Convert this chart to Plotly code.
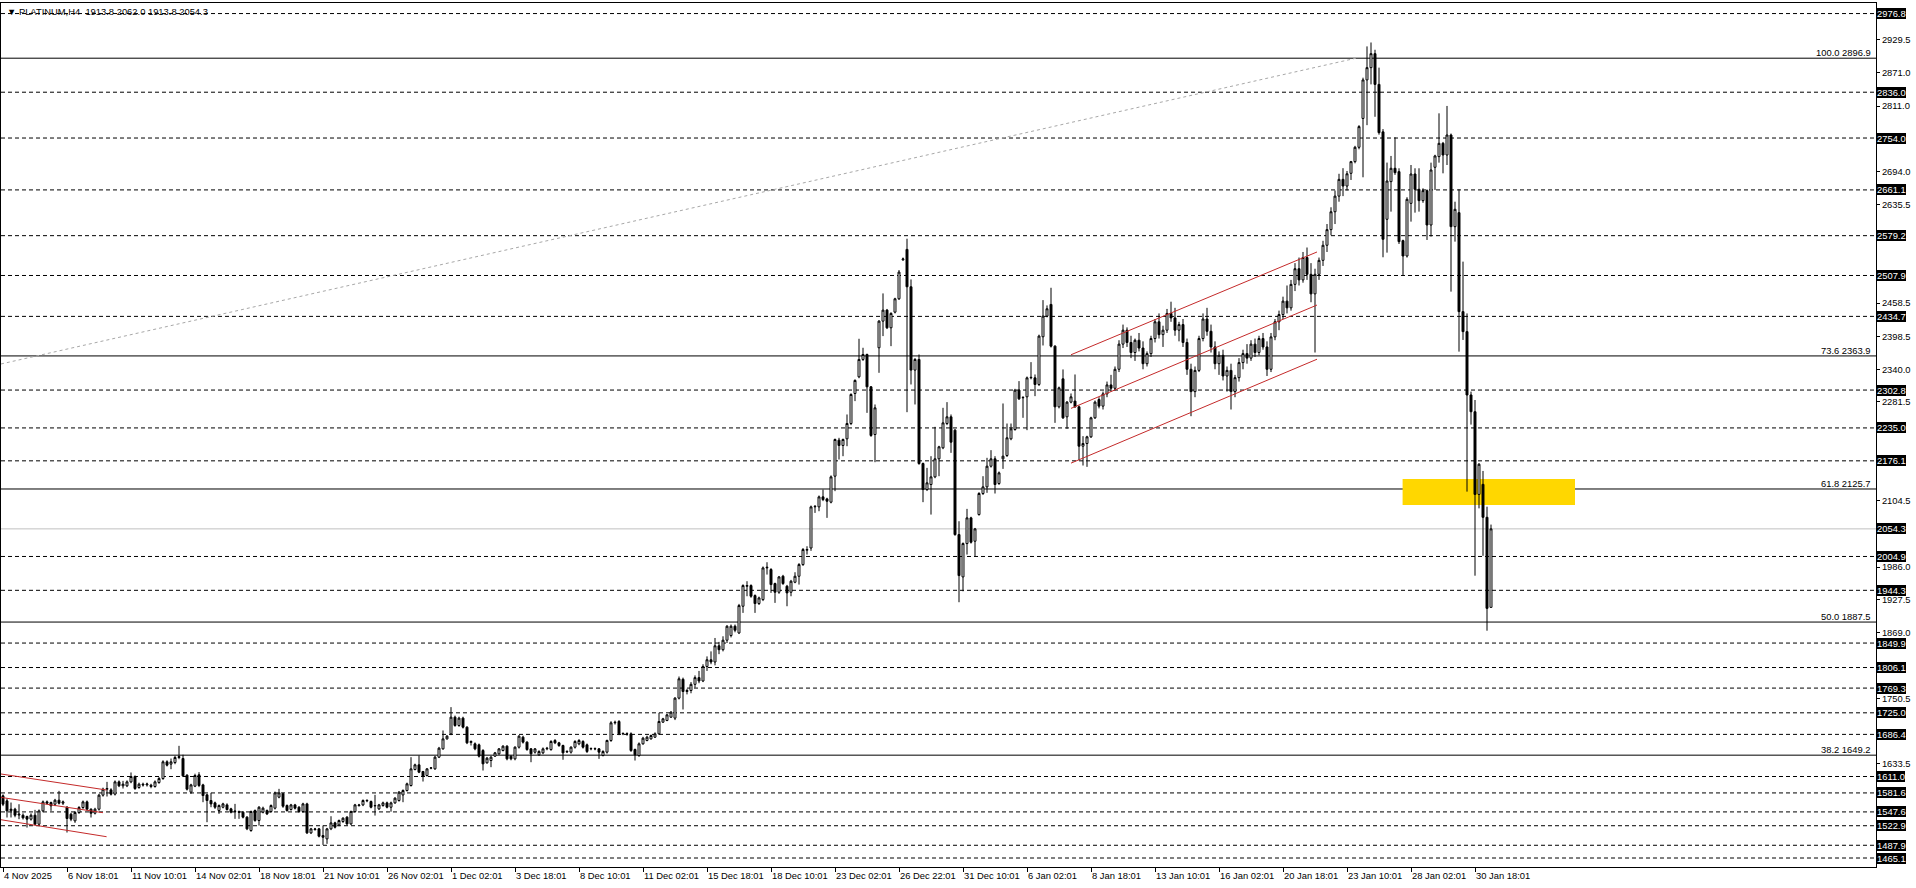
import plotly.graph_objects as go

# ---------------- data (PLATINUM, H4) ----------------
opens = [
1576.4,1567.4,1550.0,1552.5,1542.0,1541.7,1539.4,1534.6,1541.7,1525.6,
1549.5,1565.6,1564.4,1561.4,1568.6,1563.2,1556.0,1543.5,1531.6,1546.5,
1555.5,1565.6,1552.5,1545.3,1552.5,1577.6,1588.3,1587.1,1579.4,1601.4,
1594.3,1594.3,1601.4,1611.0,1591.3,1597.3,1596.0,1595.5,1593.1,1600.2,
1607.4,1637.3,1633.1,1636.0,1645.0,1643.2,1613.4,1583.0,1593.7,1614.0,
1596.0,1578.2,1568.0,1563.8,1550.1,1556.0,1560.2,1553.1,1548.3,1548.0,
1547.1,1538.2,1514.3,1550.1,1532.2,1547.1,1550.1,1548.3,1554.3,1574.0,
1580.0,1559.0,1551.9,1560.2,1556.0,1548.3,1562.0,1510.1,1516.1,1517.3,
1505.3,1499.3,1517.3,1528.0,1524.4,1530.4,1538.2,1526.2,1548.3,1559.0,
1560.2,1567.4,1566.2,1558.4,1553.1,1559.0,1563.8,1556.0,1563.8,1568.0,
1578.0,1585.9,1594.9,1623.5,1631.9,1619.9,1612.8,1625.9,1624.7,1645.6,
1660.5,1678.4,1687.4,1717.2,1702.3,1715.5,1699.3,1672.0,1669.5,1667.7,
1657.5,1635.5,1639.6,1647.4,1651.6,1657.5,1665.3,1647.4,1642.6,1663.5,
1681.4,1672.5,1660.5,1654.6,1649.8,1653.4,1660.5,1659.3,1675.5,1671.3,
1666.5,1655.0,1654.6,1663.5,1669.5,1673.7,1667.7,1660.5,1661.0,1660.5,
1648.6,1654.6,1675.5,1707.1,1709.5,1687.4,1687.4,1687.4,1659.3,1648.6,
1669.5,1675.5,1678.4,1681.4,1687.4,1708.3,1711.3,1717.2,1715.5,1751.3,
1785.0,1763.2,1765.0,1776.0,1788.0,1782.0,1808.0,1820.0,1816.0,1845.0,
1838.0,1855.0,1863.3,1880.0,1868.0,1915.8,1951.6,1952.8,1934.9,1920.6,
1927.7,1984.4,1981.5,1956.4,1940.9,1969.5,1951.6,1940.9,1958.8,1969.5,
1990.4,2016.1,2020.0,2093.7,2093.7,2111.6,2108.0,2102.1,2148.6,2213.1,
2203.6,2215.5,2242.9,2296.7,2326.5,2357.6,2366.5,2308.6,2223.2,2378.5,
2426.2,2445.9,2414.3,2442.3,2466.2,2536.0,2554.6,2487.7,2338.5,2357.6,
2171.3,2124.7,2133.7,2147.4,2179.7,2199.4,2242.9,2254.9,2231.0,2044.1,
1968.3,2028.0,2074.0,2032.2,2079.9,2117.6,2129.5,2166.5,2179.7,2135.5,
2179.7,2185.6,2215.5,2232.2,2302.6,2288.9,2290.7,2324.7,2324.7,2312.8,
2398.2,2435.2,2456.1,2381.4,2272.8,2322.9,2254.9,2281.2,2283.0,2272.8,
2202.3,2207.1,2219.1,2253.1,2285.9,2274.0,2296.0,2312.0,2306.0,2340.0,
2385.0,2410.0,2388.0,2370.0,2392.0,2378.0,2350.0,2368.0,2395.0,2425.0,
2402.0,2410.0,2440.0,2432.0,2410.0,2420.0,2388.0,2340.0,2300.0,2338.0,
2395.0,2430.0,2408.0,2380.0,2350.0,2365.0,2328.0,2338.0,2300.0,2325.0,
2352.0,2368.0,2360.0,2385.0,2370.0,2395.0,2380.0,2340.0,2398.0,2425.0,
2438.0,2462.0,2450.0,2492.0,2520.0,2500.0,2540.0,2510.0,2475.0,2510.0,
2535.0,2562.0,2590.0,2622.0,2650.0,2680.0,2668.0,2690.8,2711.7,2737.4,
2789.0,2858.0,2880.0,2905.0,2850.0,2765.0,2608.5,2675.9,2699.8,2693.8,
2570.3,2542.8,2637.0,2689.6,2662.2,2641.9,2659.8,2598.3,2701.6,2720.7,
2744.5,2723.6,2759.4,2595.3,2620.4,2443.2,2407.4,2294.0,2264.0,2116.0,
2134.0,2075.0,1913.8]

highs = [
1579.0,1571.6,1564.4,1555.0,1561.4,1545.0,1541.0,1545.0,1551.3,1552.0,
1568.0,1568.0,1566.0,1571.0,1585.3,1568.0,1558.0,1546.0,1549.0,1558.0,
1568.0,1568.0,1554.0,1555.0,1580.0,1591.0,1601.4,1590.0,1604.0,1604.0,
1603.2,1604.0,1618.2,1613.0,1600.0,1600.0,1600.0,1598.0,1604.0,1610.0,
1640.0,1640.0,1643.2,1648.0,1665.9,1650.0,1615.0,1598.0,1616.0,1618.8,
1598.0,1580.0,1581.7,1566.0,1561.0,1564.0,1563.0,1555.0,1562.0,1550.0,
1549.0,1540.0,1550.0,1552.0,1558.0,1557.0,1552.0,1561.0,1584.0,1588.9,
1582.0,1561.0,1562.0,1562.0,1558.0,1564.0,1564.0,1519.0,1519.0,1519.0,
1523.2,1519.0,1539.9,1530.0,1534.0,1538.0,1540.0,1550.0,1562.0,1562.0,
1570.0,1570.0,1568.0,1578.2,1562.0,1566.0,1566.0,1566.0,1574.0,1585.0,
1588.0,1600.0,1645.6,1634.0,1648.6,1621.0,1626.0,1628.0,1648.0,1664.0,
1693.4,1685.0,1735.2,1720.0,1718.0,1718.0,1701.0,1675.5,1672.0,1670.0,
1660.0,1646.0,1648.0,1655.0,1662.0,1667.0,1667.0,1649.0,1665.0,1685.0,
1684.0,1674.0,1662.0,1662.0,1658.0,1663.0,1664.0,1676.0,1678.0,1673.0,
1668.0,1658.0,1665.0,1676.0,1678.0,1676.0,1670.0,1663.0,1663.0,1662.0,
1658.0,1677.0,1710.0,1711.0,1712.0,1690.0,1690.0,1690.0,1661.0,1672.0,
1682.0,1684.0,1686.0,1690.0,1725.0,1716.0,1723.0,1728.0,1753.0,1790.0,
1788.0,1768.0,1780.0,1792.0,1800.0,1812.0,1826.0,1835.0,1859.0,1852.0,
1862.0,1882.0,1883.0,1883.0,1920.0,1955.0,1960.6,1955.0,1937.0,1933.0,
1987.0,1994.6,1984.0,1958.0,1970.0,1972.0,1954.0,1963.0,1976.7,1993.0,
2020.0,2023.2,2096.0,2097.0,2114.0,2124.7,2110.0,2150.0,2216.0,2217.3,
2216.0,2259.1,2297.0,2322.0,2394.6,2378.5,2368.0,2310.0,2277.0,2428.0,
2475.8,2448.0,2442.0,2468.0,2517.6,2540.0,2573.7,2500.8,2360.0,2366.5,
2173.0,2163.5,2184.4,2237.0,2203.0,2271.0,2281.2,2259.1,2233.0,2068.0,
2030.0,2090.1,2076.0,2056.0,2120.0,2148.6,2181.5,2195.2,2184.4,2157.0,
2278.8,2242.9,2242.9,2305.0,2318.8,2292.0,2327.0,2352.8,2330.7,2402.0,
2463.8,2454.3,2485.9,2383.0,2309.0,2339.7,2283.0,2296.7,2330.7,2275.0,
2220.3,2221.0,2255.0,2284.0,2290.0,2300.0,2318.0,2330.0,2345.0,2392.0,
2420.0,2415.0,2400.0,2395.0,2405.0,2390.0,2372.0,2400.0,2430.0,2440.0,
2418.0,2448.0,2461.0,2450.0,2425.0,2430.0,2395.0,2350.0,2345.0,2400.0,
2440.0,2450.0,2420.0,2390.0,2372.0,2375.0,2345.0,2350.0,2330.0,2360.0,
2375.0,2385.0,2392.0,2395.0,2400.0,2405.0,2390.0,2405.0,2430.0,2445.0,
2470.0,2490.0,2500.0,2530.0,2540.0,2550.0,2558.0,2530.0,2520.0,2540.0,
2570.0,2600.0,2630.0,2660.0,2690.0,2700.0,2695.0,2713.0,2740.0,2777.0,
2862.0,2918.0,2925.0,2912.0,2880.0,2770.0,2710.0,2721.9,2755.3,2699.8,
2572.0,2648.0,2705.7,2699.8,2699.8,2664.0,2662.0,2709.9,2724.0,2798.2,
2747.0,2811.4,2762.0,2640.0,2662.2,2532.7,2440.0,2300.0,2285.0,2172.0,
2158.0,2094.0,2062.0]

lows = [
1558.0,1537.6,1537.6,1538.0,1534.6,1534.0,1519.6,1532.0,1523.8,1523.0,
1547.0,1561.0,1549.5,1558.0,1561.0,1560.0,1510.7,1531.0,1528.0,1544.0,
1553.0,1550.0,1537.6,1543.0,1550.0,1575.0,1575.2,1577.0,1577.0,1592.0,
1589.5,1592.0,1599.0,1587.0,1589.0,1593.0,1593.0,1590.0,1591.0,1598.0,
1605.0,1629.0,1624.1,1633.0,1642.0,1610.0,1586.0,1580.0,1592.0,1592.0,
1565.0,1529.2,1556.0,1553.0,1544.1,1554.0,1550.0,1545.0,1535.2,1535.2,
1536.0,1515.0,1512.0,1530.0,1523.2,1545.0,1542.0,1546.0,1552.0,1572.0,
1555.0,1548.0,1550.0,1552.0,1546.0,1546.0,1508.0,1508.0,1514.0,1502.0,
1488.6,1490.4,1515.0,1518.0,1522.0,1528.0,1524.0,1524.0,1546.0,1557.0,
1558.0,1565.0,1554.0,1541.1,1551.0,1557.0,1554.0,1548.0,1562.0,1566.0,
1565.0,1584.0,1593.0,1622.0,1617.0,1602.0,1611.0,1624.0,1623.0,1644.0,
1659.0,1677.0,1685.0,1700.0,1700.0,1697.0,1669.0,1666.5,1658.0,1645.0,
1621.7,1634.0,1627.7,1646.0,1650.0,1656.0,1640.0,1640.0,1640.0,1661.0,
1670.0,1657.0,1636.6,1652.0,1648.0,1651.0,1658.0,1657.0,1669.0,1664.0,
1641.0,1653.0,1652.0,1661.0,1667.0,1661.0,1653.0,1658.0,1658.0,1642.6,
1647.0,1652.0,1673.0,1704.0,1685.0,1685.0,1684.0,1655.0,1639.6,1646.0,
1668.0,1674.0,1677.0,1680.0,1686.0,1707.0,1710.0,1716.0,1712.0,1749.0,
1731.0,1758.0,1760.0,1770.0,1778.0,1780.0,1800.0,1812.0,1810.0,1830.0,
1835.0,1850.0,1860.0,1869.2,1866.0,1903.9,1933.7,1931.0,1903.9,1918.0,
1925.0,1972.5,1939.7,1921.8,1938.0,1954.0,1915.8,1933.7,1957.0,1954.6,
1988.0,2008.3,2015.0,2082.9,2085.9,2104.0,2074.0,2100.0,2121.8,2178.5,
2184.4,2202.3,2240.0,2283.0,2324.0,2355.0,2262.0,2219.0,2173.7,2333.7,
2399.4,2412.0,2381.4,2440.0,2464.0,2534.0,2263.2,2312.8,2277.0,2169.0,
2102.1,2122.0,2079.9,2145.0,2148.6,2197.0,2240.0,2190.4,2042.0,1923.0,
1942.6,2008.3,2028.0,2004.2,2078.0,2115.0,2118.8,2164.0,2117.6,2133.0,
2161.7,2183.0,2213.0,2230.0,2285.0,2253.1,2231.0,2322.0,2291.9,2310.0,
2382.6,2433.0,2379.0,2244.1,2270.0,2251.0,2233.4,2279.0,2271.0,2177.3,
2167.7,2165.3,2217.0,2251.0,2270.0,2268.0,2290.0,2300.0,2302.0,2335.0,
2378.0,2380.0,2360.0,2355.0,2372.0,2340.0,2345.0,2362.0,2388.0,2395.0,
2380.0,2405.0,2425.0,2400.0,2390.0,2380.0,2330.0,2256.0,2290.0,2335.0,
2390.0,2400.0,2370.0,2340.0,2330.0,2320.0,2300.0,2268.0,2290.0,2318.0,
2340.0,2350.0,2355.0,2362.0,2365.0,2375.0,2328.0,2335.0,2392.0,2410.0,
2430.0,2440.0,2445.0,2480.0,2490.0,2495.0,2500.0,2460.0,2370.0,2500.0,
2525.0,2550.0,2580.0,2600.0,2640.0,2650.0,2660.0,2678.9,2708.7,2733.8,
2683.7,2777.0,2850.0,2792.0,2760.0,2540.5,2548.8,2622.2,2688.0,2564.3,
2508.8,2540.0,2604.3,2620.4,2622.2,2638.0,2571.5,2577.5,2661.0,2709.9,
2690.8,2705.7,2479.0,2568.5,2371.6,2392.5,2121.0,2241.0,1970.5,2091.0,
2006.0,1872.0,1913.8]

closes = [
1561.4,1549.5,1552.5,1541.7,1543.5,1537.0,1534.6,1541.7,1525.6,1549.5,
1565.6,1563.2,1558.5,1568.6,1563.2,1565.6,1535.8,1534.6,1546.5,1555.5,
1565.6,1552.5,1545.3,1552.5,1577.6,1588.3,1589.5,1579.4,1601.4,1594.3,
1597.3,1601.4,1611.0,1589.5,1597.3,1596.0,1597.5,1593.1,1601.4,1607.4,
1637.3,1631.3,1637.3,1645.0,1646.5,1612.2,1588.3,1596.0,1612.8,1594.9,
1576.9,1568.0,1562.0,1556.0,1559.0,1562.0,1551.9,1547.1,1549.0,1547.1,
1538.2,1517.3,1548.3,1532.2,1556.0,1554.3,1544.1,1559.0,1581.7,1581.7,
1557.8,1550.1,1560.2,1554.3,1548.3,1562.0,1510.1,1517.3,1517.0,1504.1,
1502.3,1517.3,1528.0,1520.2,1532.2,1536.4,1526.2,1548.3,1560.2,1560.0,
1568.0,1568.2,1556.0,1559.0,1560.2,1563.8,1556.0,1563.8,1572.2,1582.9,
1585.9,1597.9,1624.7,1631.9,1618.7,1611.6,1624.7,1626.5,1645.6,1661.7,
1678.4,1683.2,1717.2,1702.3,1715.5,1699.3,1671.3,1673.7,1660.5,1647.4,
1633.7,1643.8,1645.6,1653.4,1660.5,1665.3,1642.6,1642.6,1663.5,1683.2,
1672.5,1659.3,1651.6,1660.5,1655.8,1660.5,1661.5,1673.7,1671.3,1666.5,
1653.4,1655.8,1663.5,1673.7,1675.5,1663.5,1655.8,1661.0,1660.5,1654.6,
1655.8,1675.5,1707.1,1708.0,1687.4,1688.0,1687.0,1657.5,1649.8,1669.5,
1679.6,1681.4,1684.4,1687.4,1709.5,1714.3,1721.4,1726.2,1751.3,1785.9,
1763.2,1765.0,1776.0,1788.0,1782.0,1808.0,1820.0,1816.0,1845.0,1838.0,
1855.0,1880.0,1880.0,1872.8,1917.0,1952.8,1952.8,1933.7,1920.6,1930.7,
1984.4,1985.5,1954.6,1940.9,1968.3,1956.4,1939.7,1960.6,1969.5,1990.4,
2017.3,2017.3,2093.7,2094.5,2111.6,2106.8,2103.8,2147.4,2214.3,2203.6,
2214.3,2242.9,2294.9,2320.0,2357.6,2366.5,2308.6,2221.5,2271.0,2426.2,
2445.9,2414.3,2440.0,2466.2,2514.0,2537.5,2487.7,2338.5,2357.6,2171.3,
2124.7,2136.7,2147.4,2179.7,2201.2,2244.1,2254.9,2209.5,2044.1,1970.7,
2028.0,2074.0,2030.4,2054.3,2117.6,2129.5,2166.5,2179.7,2133.7,2154.6,
2184.4,2217.3,2233.4,2302.6,2287.1,2289.5,2324.7,2325.5,2312.8,2399.4,
2435.2,2448.3,2381.4,2272.8,2306.8,2253.1,2281.2,2290.7,2272.8,2202.3,
2207.1,2219.1,2253.1,2281.2,2274.0,2296.0,2312.0,2306.0,2340.0,2385.0,
2410.0,2388.0,2370.0,2392.0,2378.0,2350.0,2368.0,2395.0,2425.0,2402.0,
2410.0,2440.0,2432.0,2410.0,2420.0,2388.0,2340.0,2300.0,2338.0,2395.0,
2430.0,2408.0,2380.0,2350.0,2365.0,2328.0,2338.0,2300.0,2325.0,2352.0,
2368.0,2360.0,2385.0,2370.0,2395.0,2380.0,2340.0,2398.0,2425.0,2438.0,
2462.0,2450.0,2492.0,2520.0,2500.0,2540.0,2510.0,2475.0,2510.0,2535.0,
2562.0,2590.0,2622.0,2650.0,2680.0,2668.0,2690.0,2711.7,2737.4,2774.4,
2858.0,2880.0,2905.0,2850.0,2763.6,2572.7,2677.0,2699.8,2692.0,2568.5,
2542.8,2644.3,2689.6,2662.2,2641.9,2659.8,2598.3,2696.8,2721.9,2744.5,
2723.6,2759.4,2595.3,2626.4,2443.2,2407.4,2294.0,2264.0,2116.0,2170.0,
2075.0,1912.0,2054.3]

# time-axis labels (bar index -> label)
x_label_bars = [0, 16, 32, 48, 64, 80, 96, 112, 128, 144, 160, 176,
                192, 208, 224, 240, 256, 272, 288, 304, 320, 336, 352, 368]
x_label_text = ["4 Nov 2025", "6 Nov 18:01", "11 Nov 10:01", "14 Nov 02:01",
                "18 Nov 18:01", "21 Nov 10:01", "26 Nov 02:01", "1 Dec 02:01",
                "3 Dec 18:01", "8 Dec 10:01", "11 Dec 02:01", "15 Dec 18:01",
                "18 Dec 10:01", "23 Dec 02:01", "26 Dec 22:01", "31 Dec 10:01",
                "6 Jan 02:01", "8 Jan 18:01", "13 Jan 10:01", "16 Jan 02:01",
                "20 Jan 18:01", "23 Jan 10:01", "28 Jan 02:01", "30 Jan 18:01"]

# price-axis labels
y_tick_values = [2929.5, 2871.0, 2811.0, 2694.0, 2635.5, 2458.5,
                 2398.5, 2340.0, 2281.5, 2104.5, 1986.0,
                 1927.5, 1869.0, 1750.5, 1633.5]

# horizontal dashed levels with boxed price labels
dashed_levels = [2976.8, 2836.0, 2754.0, 2661.1, 2579.2, 2507.9, 2434.7, 2302.8,
                 2235.0, 2176.1, 2004.9, 1944.3, 1849.9, 1806.1, 1769.3, 1725.0,
                 1686.4, 1611.0, 1581.6, 1547.6, 1522.9, 1487.9, 1465.1]
current_price = 2054.3

# Fibonacci levels
fib_pct = ["100.0", "73.6", "61.8", "50.0", "38.2"]
fib_price = [2896.9, 2363.9, 2125.7, 1887.5, 1649.2]
fib_base = [(-0.5, 2349.5), (338.25, 2896.9)]

# red channels: (bar0, price0, bar1, price1)
channel_right = [(267, 2366.0, 328.5, 2550.0),
                 (267, 2270.0, 328.5, 2455.0),
                 (267, 2172.0, 328.5, 2358.0)]
channel_left = [(-0.5, 1615.5, 25.9, 1586.8),
                (-0.5, 1573.6, 25.0, 1546.2),
                (-0.5, 1533.6, 25.9, 1503.2)]

# highlighted zone (bar0, bar1, price_low, price_high)
zone = (349.9, 393.0, 2097.0, 2143.6)

title_text = "\u25bc PLATINUM,H4  1913.8 2062.0 1913.8 2054.3"

# ---------------- figure ----------------
FONT = "Liberation Sans, Arial, sans-serif"
FS = 9.4
bars = list(range(len(closes)))

fig = go.Figure()
fig.add_trace(go.Candlestick(
    x=bars, open=opens, high=highs, low=lows, close=closes,
    increasing=dict(line=dict(color="black", width=1), fillcolor="white"),
    decreasing=dict(line=dict(color="black", width=1), fillcolor="black"),
    whiskerwidth=0, hoverinfo="skip", showlegend=False,
))

shapes = []
shapes.append(dict(type="rect", xref="x", yref="y", x0=zone[0], x1=zone[1],
                   y0=zone[2], y1=zone[3], fillcolor="#FFD700",
                   line=dict(width=0), layer="below"))
for lv in dashed_levels:
    shapes.append(dict(type="line", xref="paper", yref="y", x0=0, x1=1, y0=lv, y1=lv,
                       line=dict(color="black", width=1, dash="4px,3px"), layer="below"))
shapes.append(dict(type="line", xref="paper", yref="y", x0=0, x1=1,
                   y0=current_price, y1=current_price,
                   line=dict(color="#C0C0C0", width=1), layer="below"))
for fp in fib_price:
    shapes.append(dict(type="line", xref="paper", yref="y", x0=0, x1=1, y0=fp, y1=fp,
                       line=dict(color="black", width=1), layer="below"))
shapes.append(dict(type="line", xref="x", yref="y",
                   x0=fib_base[0][0], y0=fib_base[0][1],
                   x1=fib_base[1][0], y1=fib_base[1][1],
                   line=dict(color="#A8A8A8", width=1, dash="dot"), layer="below"))
for (a0, p0, a1, p1) in channel_right + channel_left:
    shapes.append(dict(type="line", xref="x", yref="y", x0=a0, y0=p0, x1=a1, y1=p1,
                       line=dict(color="#C42A2A", width=1), layer="above"))

annotations = []
for lv in dashed_levels + [current_price]:
    annotations.append(dict(xref="paper", yref="y", x=1, y=lv, xanchor="left",
                            yanchor="middle", xshift=1, text=f"{lv:.1f}",
                            showarrow=False, bgcolor="black", borderpad=0, borderwidth=0,
                            font=dict(color="white", size=FS, family=FONT)))
for pct, fp in zip(fib_pct, fib_price):
    annotations.append(dict(xref="paper", yref="y", x=1, y=fp, xanchor="right",
                            yanchor="bottom", xshift=-3, yshift=-2,
                            text=f"{pct} {fp:.1f}", showarrow=False,
                            font=dict(color="black", size=FS, family=FONT)))
annotations.append(dict(xref="paper", yref="paper", x=0, y=1, xanchor="left",
                        yanchor="top", xshift=4, yshift=-1, text=title_text,
                        showarrow=False, font=dict(color="black", size=FS, family=FONT)))

fig.update_layout(
    template="none",
    width=1916, height=888,
    margin=dict(l=1, r=40, t=3, b=21, autoexpand=False),
    paper_bgcolor="white", plot_bgcolor="white",
    showlegend=False,
    shapes=shapes, annotations=annotations,
    font=dict(family=FONT, size=FS, color="black"),
    xaxis=dict(range=[-0.5, 468.25], tickvals=x_label_bars, ticktext=x_label_text,
               tickangle=0, automargin=False,
               ticks="outside", ticklen=4, tickcolor="black", tickwidth=1,
               showline=True, linecolor="black", linewidth=1, mirror=True,
               showgrid=False, zeroline=False, rangeslider=dict(visible=False),
               ticklabelposition="outside right",
               tickfont=dict(size=FS, family=FONT, color="black"),
               fixedrange=True),
    yaxis=dict(range=[1449.0, 2995.7], side="right", tickvals=y_tick_values,
               ticktext=[f"{v:.1f}" for v in y_tick_values], automargin=False,
               ticks="outside", ticklen=3, tickcolor="black",
               showline=True, linecolor="black", linewidth=1, mirror=True,
               showgrid=False, zeroline=False,
               tickfont=dict(size=FS, family=FONT, color="black"),
               fixedrange=True),
)

fig.write_html(
    "out.html",
    config={"displayModeBar": False, "responsive": False},
    post_script="document.body.style.margin='0px';document.body.style.padding='0px';"
                "document.body.style.overflow='hidden';",
)
